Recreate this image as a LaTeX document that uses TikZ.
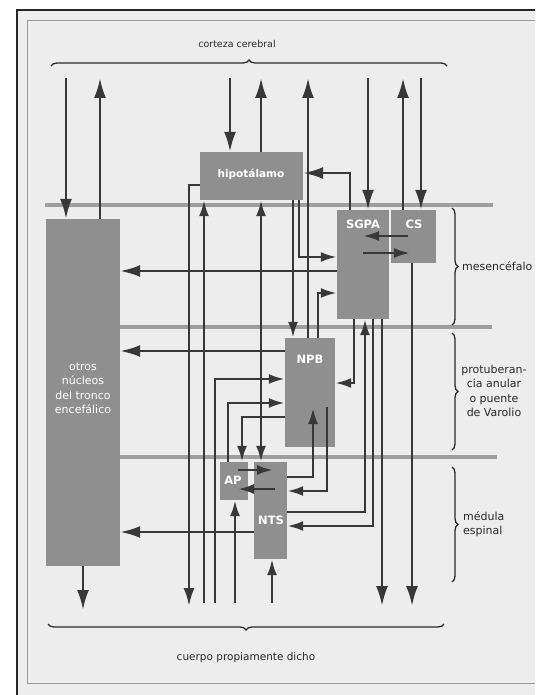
\documentclass[tikz,border=0pt]{standalone}
\usepackage{fontspec}
\setmainfont{DejaVu Sans}
\usetikzlibrary{arrows.meta,decorations.pathreplacing}
\definecolor{bgc}{HTML}{EDEDED}
\definecolor{boxc}{HTML}{8F8F8F}
\definecolor{linec}{HTML}{383838}
\definecolor{levc}{HTML}{9E9E9E}
\definecolor{txtc}{HTML}{2A2A2A}
\begin{document}
\begin{tikzpicture}[x=1pt,y=-1pt,
  box/.style={fill=boxc, draw=none, inner sep=0pt},
  boxtext/.style={text=white, font=\fontsize{11}{14.5}\selectfont, align=center, inner sep=0pt},
  boxlab/.style={boxtext, font=\bfseries\fontsize{11.5}{14}\selectfont},
  lbl/.style={text=txtc, font=\fontsize{11}{14.5}\selectfont, inner sep=0pt},
  conn/.style={draw=linec, line width=2.6pt},
  big/.style={conn, -{Latex[length=20pt,width=12pt]}},
  med/.style={conn, -{Latex[length=18pt,width=11pt]}},
  small/.style={conn, -{Latex[length=16pt,width=10pt]}},
  dbl/.style={conn, {Latex[length=16pt,width=10pt]}-{Latex[length=16pt,width=10pt]}},
  lev/.style={draw=levc, line width=3.2pt},
  brc/.style={draw=txtc, line width=1.3pt, decorate, decoration={brace, amplitude=6pt}}]
\useasboundingbox (0,0) rectangle (535,695);
\fill[white] (0,0) rectangle (535,695);
\fill[bgc] (17,10) rectangle (535,695);
\draw[black!85, line width=1.5pt] (17,695) -- (17,10) -- (535,10);
\draw[black!40, line width=0.8pt] (535,20) -- (27,20) -- (27,683) -- (535,683);
% level lines
\draw[lev] (45,205) -- (493,205);
\draw[lev] (60,327) -- (492,327);
\draw[lev] (60,457) -- (497,457);
% boxes
\node[box, minimum width=74pt, minimum height=347pt] (otros) at (83,392.5) {};
\node[box, minimum width=103pt, minimum height=48pt] (hipo) at (251.5,176) {};
\node[box, minimum width=52pt, minimum height=109pt] (sgpa) at (363,264.5) {};
\node[box, minimum width=45pt, minimum height=53pt] (cs) at (413.5,236.5) {};
\node[box, minimum width=50pt, minimum height=109pt] (npb) at (310,392.5) {};
\node[box, minimum width=28pt, minimum height=38pt] (ap) at (234,481) {};
\node[box, minimum width=33pt, minimum height=97pt] (nts) at (270.5,510.5) {};
% box texts
\node[boxtext] (tot) at (83,388) {otros\\núcleos\\del tronco\\encefálico};
\node[boxlab, font=\bfseries\fontsize{10.5}{14}\selectfont] (thi) at (251,174) {hipotálamo};
\node[boxlab] (tsg) at (363,224) {SGPA};
\node[boxlab] (tcs) at (414,224) {CS};
\node[boxlab] (tnp) at (310,359) {NPB};
\node[boxlab] (tap) at (233,480) {AP};
\node[boxlab] (tnt) at (271,520) {NTS};
% outside labels
\node[lbl, font=\fontsize{9.5}{12}\selectfont] (lcor) at (237,44) {corteza cerebral};
\node[lbl, font=\fontsize{10.5}{12}\selectfont] (lcue) at (246,658) {cuerpo propiamente dicho};
\node[lbl, anchor=west] (lmes) at (462,266) {mesencéfalo};
\node[lbl, align=center] (lpro) at (494,391) {protuberan-\\cia anular\\o puente\\de Varolio};
\node[lbl, align=left, anchor=west] (lmed) at (463,524) {médula\\espinal};
% braces
\draw[brc] (51,66) -- (447,66);
\draw[brc] (444,624) -- (48,624);
\draw[brc] (452,208) -- (452,325);
\draw[brc] (452,333) -- (452,450);
\draw[brc] (452,467) -- (452,582);
% lane coordinates
\foreach \v in {66,83,100,189,204,215,228,230,235,238,242,261,272,273,275,293,299,308,313,318,327,350,354,363,365,368,373,382,403,408,410,412,421}
  \coordinate (x\v) at (\v,0);
\foreach \v in {173,185,236,253,257,271,293,351,379,383,403,407,408,417,470,477,489,491,512,526,532,610}
  \coordinate (y\v) at (0,\v);
\coordinate (ytop) at (0,78);
\coordinate (ybot) at (0,603);
\coordinate (ytip) at (0,606);
% connectors to/from cortex
\draw[big] (x66 |- ytop) -- (x66 |- otros.north);
\draw[big] (x100 |- otros.north) -- (x100 |- ytop);
\draw[big] (x230 |- ytop) -- (x230 |- hipo.north);
\draw[big] (x261 |- hipo.north) -- (x261 |- ytop);
\draw[big] (x308 |- npb.north) -- (x308 |- ytop);
\draw[big] (x368 |- ytop) -- (x368 |- sgpa.north);
\draw[big] (x403 |- cs.north) -- (x403 |- ytop);
\draw[big] (x421 |- ytop) -- (x421 |- cs.north);
% hipotalamo
\draw[big] (x350 |- sgpa.north) -- (x350 |- y173) -- (hipo.east |- y173);
\draw[small] (x293 |- hipo.south) -- (x293 |- npb.north);
\draw[small] (x299 |- hipo.south) -- (x299 |- y257) -- (sgpa.west |- y257);
\draw[dbl] (x261 |- hipo.south) -- (x261 |- nts.north);
\draw[med] (hipo.west |- y185) -- (x189 |- y185) -- (x189 |- ytip);
\draw[small] (x204 |- ybot) -- (x204 |- hipo.south);
% SGPA / CS
\draw[big] (sgpa.west |- y271) -- (otros.east |- y271);
\draw[small] (x408 |- y236) -- (x363 |- y236);
\draw[small] (x363 |- y253) -- (x410 |- y253);
\draw[small] (x354 |- sgpa.south) -- (x354 |- y383) -- (npb.east |- y383);
\draw[small] (nts.east |- y512) -- (x365 |- y512) -- (x365 |- sgpa.south);
\draw[small] (x373 |- sgpa.south) -- (x373 |- y526) -- (nts.east |- y526);
\draw[big] (x382 |- sgpa.south) -- (x382 |- ytip);
\draw[big] (x412 |- cs.south) -- (x412 |- ytip);
% NPB
\draw[small] (x318 |- npb.north) -- (x318 |- y293) -- (sgpa.west |- y293);
\draw[big] (npb.west |- y351) -- (otros.east |- y351);
\draw[small] (x215 |- ybot) -- (x215 |- y379) -- (npb.west |- y379);
\draw[small] (x228 |- ap.north) -- (x228 |- y403) -- (npb.west |- y403);
\draw[small] (npb.west |- y417) -- (x242 |- y417) -- (x242 |- ap.north);
\draw[small] (nts.east |- y477) -- (x313 |- y477) -- (x313 |- y408);
\draw[small] (x327 |- y407) -- (x327 |- y491) -- (nts.east |- y491);
% AP / NTS
\draw[small] (x238 |- y470) -- (x273 |- y470);
\draw[small] (x275 |- y489) -- (x238 |- y489);
\draw[big] (nts.west |- y532) -- (otros.east |- y532);
\draw[small] (x235 |- ybot) -- (x235 |- ap.south);
\draw[small] (x272 |- ybot) -- (x272 |- nts.south);
\draw[big] (x83 |- otros.south) -- (x83 |- y610);
\end{tikzpicture}
\end{document}
